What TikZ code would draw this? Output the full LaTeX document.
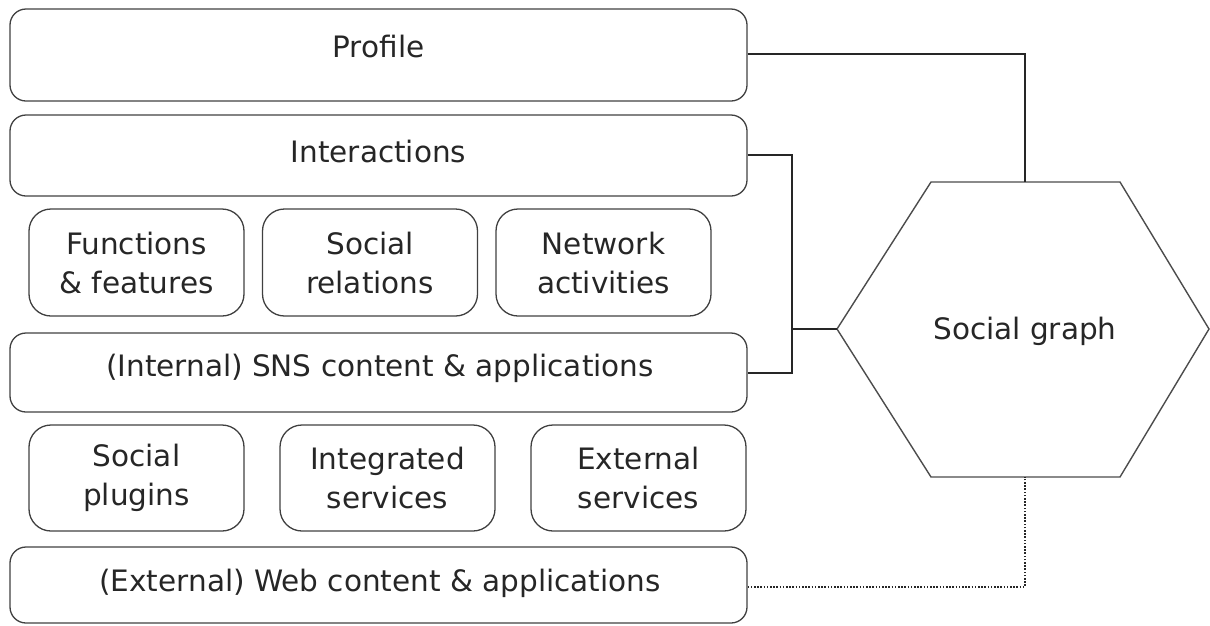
\documentclass[tikz,border=0pt]{standalone}
\usepackage{fontspec}
\setmainfont{DejaVu Sans}
\begin{document}
\begin{tikzpicture}[x=1pt,y=-1pt,
  bigbox/.style={draw=black!75, line width=1.3pt, rounded corners=16pt, minimum width=737pt, inner sep=0pt},
  smallbox/.style={draw=black!75, line width=1.3pt, rounded corners=22pt, minimum width=215pt, inner sep=0pt, align=center, font=\fontsize{29.5}{39}\selectfont},
  txt/.style={inner sep=0pt, text=black!85, font=\fontsize{29.5}{39}\selectfont},
  conn/.style={draw=black!85, line width=1.2pt},
  dotconn/.style={draw=black!85, line width=1.3pt, dash pattern=on 1.6pt off 1.6pt}
]
\useasboundingbox (0,0) rectangle (1210,625);
% wide boxes
\node[bigbox, minimum height=92pt] (profile) at (378.5,55) {};
\node[txt] (profileT) at (378.5,46) {Profile};
\node[bigbox, minimum height=81pt] (inter) at (378.5,155.5) {};
\node[txt] (interT) at (378.5,151) {Interactions};
\node[bigbox, minimum height=79pt] (sns) at (378.5,372.5) {};
\node[txt] (snsT) at (380,368) {(Internal) SNS content \& applications};
\node[bigbox, minimum height=76pt] (web) at (378.5,585) {};
\node[txt] (webT) at (380,583) {(External) Web content \& applications};
% row 1
\node[smallbox, text=black!85, minimum height=107pt] (func) at (136.5,262.5) {Functions\\\& features};
\node[smallbox, text=black!85, minimum height=107pt] (rel) at (370,262.5) {Social\\relations};
\node[smallbox, text=black!85, minimum height=107pt] (act) at (603.5,262.5) {Network\\activities};
% row 2
\node[smallbox, text=black!85, minimum height=106pt] (plug) at (136.5,478) {Social\\plugins};
\node[smallbox, text=black!85, minimum height=106pt] (integ) at (387.5,478) {Integrated\\services};
\node[smallbox, text=black!85, minimum height=106pt] (ext) at (638.5,478) {External\\services};
% hexagon
\coordinate (hT) at (1025,182);
\coordinate (hB) at (1025,477);
\coordinate (hL) at (837,329);
\coordinate (hR) at (1209,329);
\draw[draw=black!70, line width=1.4pt] (931,182) -- (1120,182) -- (hR) -- (1120,477) -- (931,477) -- (hL) -- cycle;
\node[txt] (graph) at (1025,331) {Social graph};
% connectors
\coordinate (jt) at (792,329);
\draw[conn] (profile.east |- 0,54) -| (hT);
\draw[conn] (inter.east |- 0,155) -| (792,373) -- (sns.east |- 0,373);
\draw[conn] (jt) -- (hL);
\draw[dotconn] (web.east |- 0,587) -| (hB);
\end{tikzpicture}
\end{document}
